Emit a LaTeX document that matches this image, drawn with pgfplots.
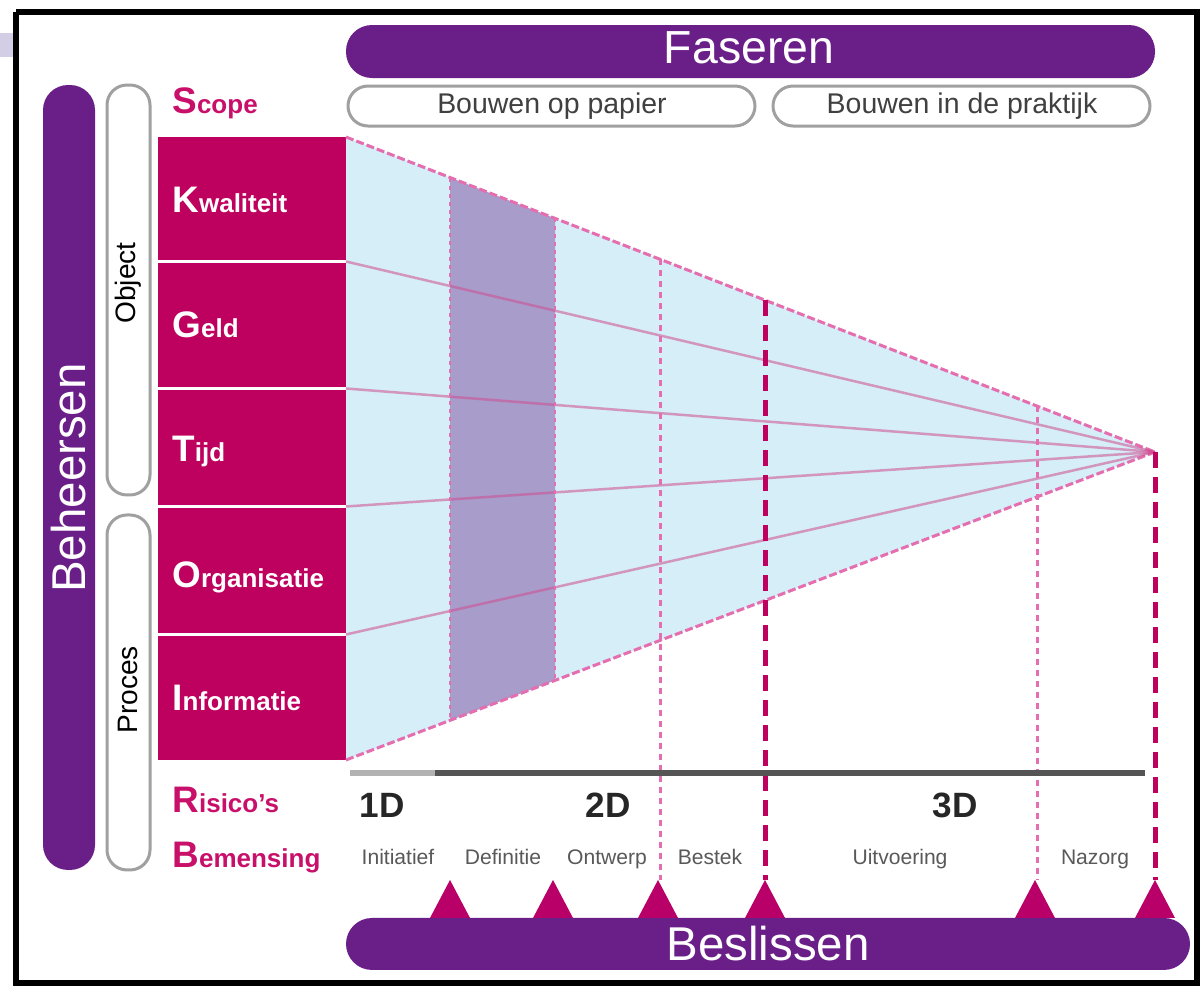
\documentclass[border=0pt]{standalone}
\usepackage{pgfplots}
\pgfplotsset{compat=1.18}
\usepackage{fontspec}
\setmainfont{Liberation Sans}
\definecolor{paars}{RGB}{106,30,136}
\definecolor{mag}{RGB}{190,0,95}
\definecolor{magtri}{RGB}{185,0,105}
\definecolor{magtxt}{RGB}{200,16,106}
\definecolor{lblue}{RGB}{213,238,248}
\definecolor{lav}{RGB}{168,156,203}
\definecolor{pinkl}{RGB}{228,110,175}
\definecolor{grijs}{RGB}{85,85,85}
\definecolor{pilgr}{RGB}{160,160,160}
\newcommand{\lab}[2]{{\fontsize{10.5}{11}\selectfont #1}#2}
\begin{document}
\begin{tikzpicture}
\begin{axis}[width=12.03cm,height=9.9cm,scale only axis,hide axis,
  xmin=0,xmax=1203,ymin=0,ymax=990,y dir=reverse,clip=false,no markers]
% background
\addplot[fill=white,draw=none] coordinates {(0,0)(1203,0)(1203,990)(0,990)};
\addplot[fill=lav!50,draw=none] coordinates {(0,33)(14,33)(14,57)(0,57)};
% frame
\addplot[draw=black,line width=0.55mm] coordinates {(16,12)(1197,12)(1197,983)(16,983)(16,12)};
% Faseren bar
\addplot[fill=paars,draw=none,rounded corners=2.6mm] coordinates {(750,25)(1155,25)(1155,78)(346,78)(346,25)(750,25)};
% Beslissen bar
\addplot[fill=paars,draw=none,rounded corners=2.6mm] coordinates {(768,918)(1190,918)(1190,970)(346,970)(346,918)(768,918)};
% Beheersen bar
\addplot[fill=paars,draw=none,rounded corners=2.5mm] coordinates {(43,480)(43,85)(95,85)(95,870)(43,870)(43,480)};
% pills
\addplot[fill=white,draw=pilgr,line width=0.3mm,rounded corners=2mm] coordinates {(550,86)(755,86)(755,126)(348,126)(348,86)(550,86)};
\addplot[fill=white,draw=pilgr,line width=0.3mm,rounded corners=2mm] coordinates {(960,86)(1150,86)(1150,126)(773,126)(773,86)(960,86)};
\addplot[fill=white,draw=pilgr,line width=0.3mm,rounded corners=2mm] coordinates {(107,300)(107,85)(150,85)(150,495)(107,495)(107,300)};
\addplot[fill=white,draw=pilgr,line width=0.3mm,rounded corners=2mm] coordinates {(107,700)(107,515)(150,515)(150,870)(107,870)(107,700)};
% magenta blocks
\addplot[fill=mag,draw=none] coordinates {(158,137)(346,137)(346,260)(158,260)};
\addplot[fill=mag,draw=none] coordinates {(158,263)(346,263)(346,387)(158,387)};
\addplot[fill=mag,draw=none] coordinates {(158,390)(346,390)(346,505)(158,505)};
\addplot[fill=mag,draw=none] coordinates {(158,508)(346,508)(346,633)(158,633)};
\addplot[fill=mag,draw=none] coordinates {(158,636)(346,636)(346,760)(158,760)};
% funnel
\addplot[fill=lblue,draw=none] coordinates {(346,137)(1155,452)(346,760)};
\addplot[fill=lav,draw=none] coordinates {(450,177.5)(555,218.4)(555,680.4)(450,720.4)};
% funnel edges and lines
\addplot[draw=pinkl,line width=0.3mm,dash pattern=on 0.8mm off 0.3mm] coordinates {(346,137)(1155,452)};
\addplot[draw=pinkl,line width=0.3mm,dash pattern=on 0.8mm off 0.3mm] coordinates {(346,760)(1155,452)};
\addplot[draw=mag!70,opacity=0.55,line width=0.25mm] coordinates {(346,261.5)(1155,452)};
\addplot[draw=mag!70,opacity=0.55,line width=0.25mm] coordinates {(346,388.5)(1155,452)};
\addplot[draw=mag!70,opacity=0.55,line width=0.25mm] coordinates {(346,506.5)(1155,452)};
\addplot[draw=mag!70,opacity=0.55,line width=0.25mm] coordinates {(346,634.5)(1155,452)};
% vertical lines
\addplot[draw=pinkl,line width=0.2mm,dash pattern=on 0.4mm off 0.4mm] coordinates {(450,177.5)(450,720.4)};
\addplot[draw=pinkl,line width=0.2mm,dash pattern=on 0.4mm off 0.4mm] coordinates {(555,218.4)(555,680.4)};
\addplot[draw=pinkl,line width=0.3mm,dash pattern=on 0.6mm off 0.5mm] coordinates {(660,259.3)(660,880)};
\addplot[draw=pinkl,line width=0.3mm,dash pattern=on 0.6mm off 0.5mm] coordinates {(1037,406)(1037,880)};
\addplot[draw=mag,line width=0.5mm,dash pattern=on 1.6mm off 0.9mm] coordinates {(765,300.2)(765,880)};
\addplot[draw=mag,line width=0.5mm,dash pattern=on 1.6mm off 0.9mm] coordinates {(1155,452)(1155,880)};
% gray bar
\addplot[draw=grijs,line width=0.55mm] coordinates {(350,773)(1145,773)};
\addplot[draw=gray!60,line width=0.55mm] coordinates {(350,773)(435,773)};
% decision triangles
\addplot[fill=magtri,draw=none] coordinates {(430,918)(450,880)(470,918)};
\addplot[fill=magtri,draw=none] coordinates {(533,918)(553,880)(573,918)};
\addplot[fill=magtri,draw=none] coordinates {(638,918)(658,880)(678,918)};
\addplot[fill=magtri,draw=none] coordinates {(745,918)(765,880)(785,918)};
\addplot[fill=magtri,draw=none] coordinates {(1015,918)(1035,880)(1055,918)};
\addplot[fill=magtri,draw=none] coordinates {(1135,918)(1155,880)(1175,918)};
% texts
\node[text=white,font=\fontsize{13.2}{14}\selectfont] at (axis cs:749,48) {Faseren};
\node[text=white,font=\fontsize{13.5}{14}\selectfont] at (axis cs:768,944) {Beslissen};
\node[text=white,rotate=90,font=\fontsize{13.5}{14}\selectfont] at (axis cs:69,478) {Beheersen};
\node[text=black!75,font=\fontsize{8.1}{9}\selectfont] at (axis cs:552,106) {Bouwen op papier};
\node[text=black!75,font=\fontsize{8.1}{9}\selectfont] at (axis cs:962,106) {Bouwen in de praktijk};
\node[text=black,rotate=90,font=\fontsize{8}{9}\selectfont] at (axis cs:128,283) {Object};
\node[text=black,rotate=90,font=\fontsize{8}{9}\selectfont] at (axis cs:128,690) {Proces};
\node[anchor=west,text=magtxt,font=\bfseries\fontsize{7.4}{9}\selectfont] at (axis cs:160,103) {\lab{S}{cope}};
\node[anchor=west,text=white,font=\bfseries\fontsize{7.4}{9}\selectfont] at (axis cs:160,200) {\lab{K}{waliteit}};
\node[anchor=west,text=white,font=\bfseries\fontsize{7.4}{9}\selectfont] at (axis cs:160,325) {\lab{G}{eld}};
\node[anchor=west,text=white,font=\bfseries\fontsize{7.4}{9}\selectfont] at (axis cs:160,452) {\lab{T}{ijd}};
\node[anchor=west,text=white,font=\bfseries\fontsize{7.4}{9}\selectfont] at (axis cs:160,577) {\lab{O}{rganisatie}};
\node[anchor=west,text=white,font=\bfseries\fontsize{7.4}{9}\selectfont] at (axis cs:160,698) {\lab{I}{nformatie}};
\node[anchor=west,text=magtxt,font=\bfseries\fontsize{7.4}{9}\selectfont] at (axis cs:160,800) {\lab{R}{isico's}};
\node[anchor=west,text=magtxt,font=\bfseries\fontsize{7.4}{9}\selectfont] at (axis cs:160,858) {\lab{B}{emensing}};
\node[text=black!85,font=\bfseries\fontsize{10}{11}\selectfont] at (axis cs:382,805) {1D};
\node[text=black!85,font=\bfseries\fontsize{10}{11}\selectfont] at (axis cs:608,805) {2D};
\node[text=black!85,font=\bfseries\fontsize{10}{11}\selectfont] at (axis cs:955,805) {3D};
\node[anchor=base,text=black!65,font=\fontsize{6}{7}\selectfont] at (axis cs:398,865) {Initiatief};
\node[anchor=base,text=black!65,font=\fontsize{6}{7}\selectfont] at (axis cs:503,865) {Definitie};
\node[anchor=base,text=black!65,font=\fontsize{6}{7}\selectfont] at (axis cs:607,865) {Ontwerp};
\node[anchor=base,text=black!65,font=\fontsize{6}{7}\selectfont] at (axis cs:710,865) {Bestek};
\node[anchor=base,text=black!65,font=\fontsize{6}{7}\selectfont] at (axis cs:900,865) {Uitvoering};
\node[anchor=base,text=black!65,font=\fontsize{6}{7}\selectfont] at (axis cs:1095,865) {Nazorg};
\end{axis}
\end{tikzpicture}
\end{document}
